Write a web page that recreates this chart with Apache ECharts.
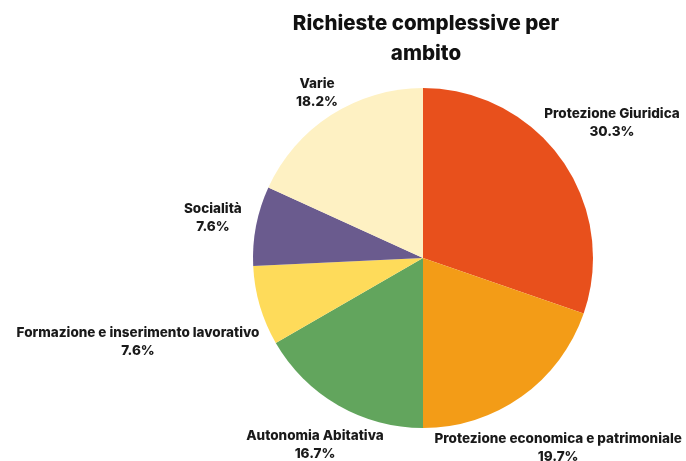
<!DOCTYPE html>
<html>
<head>
<meta charset="utf-8">
<script src="https://cdn.jsdelivr.net/npm/echarts@6/dist/echarts.min.js"></script>
<style>html,body{margin:0;padding:0;background:#fff}#c{width:686px;height:461px}</style>
</head>
<body>
<div id="c"></div>
<script>
const categories = ['Protezione Giuridica','Protezione economica e patrimoniale','Autonomia Abitativa','Formazione e inserimento lavorativo','Socialità','Varie'];
const values = [20, 13, 11, 5, 5, 12];
const colors = ['#E8501C','#F39C17','#62A55D','#FEDB5A','#6A5B8E','#FEF1C3'];
// radial distance of each label's centre from the pie centre (px)
const labelRadius = [232, 233, 216, 297, 214, 196];

const CX = 423, CY = 258, R = 170;
const total = values.reduce((a,b)=>a+b,0);
const midAngles = [];
let acc = 0;
values.forEach(v => { midAngles.push((acc + v/2) / total * 2 * Math.PI); acc += v; });

const chart = echarts.init(document.getElementById('c'));
chart.setOption({
  animation: false,
  title: {
    text: 'Richieste complessive per\nambito',
    left: 421, textAlign: 'center', top: 4,
    textStyle: { fontFamily: 'Inter', fontWeight: 800, fontSize: 20.5, color: '#111', lineHeight: 30 }
  },
  series: [{
    type: 'pie',
    center: [CX, CY],
    radius: R,
    startAngle: 90,
    clockwise: true,
    data: categories.map((n,i)=>({name:n, value:values[i], itemStyle:{color:colors[i]}})),
    label: {
      show: true,
      position: 'outside',
      overflow: 'none',
      formatter: p => p.name + '\n' + (p.value/total*100).toFixed(1) + '%',
      fontFamily: 'Inter', fontWeight: 800, fontSize: 13.5, color: '#1a1a1a',
      lineHeight: 18, align: 'center'
    },
    labelLine: { show: false },
    labelLayout: params => {
      const i = params.dataIndex, a = midAngles[i], r = labelRadius[i];
      return { x: CX + r*Math.sin(a), y: CY - r*Math.cos(a), align: 'center', verticalAlign: 'middle', moveOverlap: null, hideOverlap: false };
    }
  }]
});
</script>
</body>
</html>
